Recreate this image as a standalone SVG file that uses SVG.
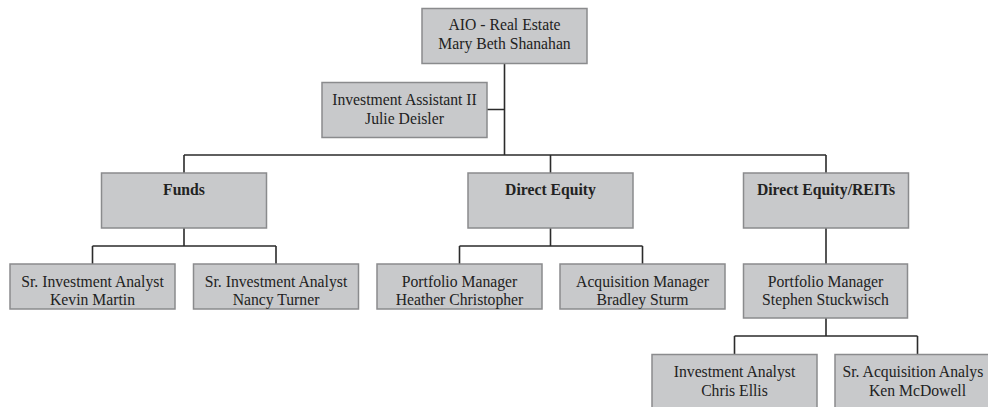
<svg xmlns="http://www.w3.org/2000/svg" width="988" height="407" viewBox="0 0 988 407">
<style>
.box{fill:#c8c9cb;stroke:#8a8b8d;stroke-width:1.5}
.t{font-family:"Liberation Serif","Times New Roman",serif;font-size:15.7px;fill:#222;text-anchor:middle}
.b{font-weight:bold}
.c{fill:none;stroke:#2b2b2b;stroke-width:1.6}
</style>
<rect width="988" height="407" fill="#fff"/>
<g id="connectors">
<path class="c" d="M504.5 63.5V155M487 109.5H504.5M184 155H826M184 155V173M550.5 155V173M826 155V173"/>
<path class="c" d="M184 228V246M92.5 246H276M92.5 246V264M276 246V264"/>
<path class="c" d="M550.5 228V246M459.5 246H642.5M459.5 246V264M642.5 246V264"/>
<path class="c" d="M826 228V264"/>
<path class="c" d="M826 318V336M734.5 336H917.5M734.5 336V354.5M917.5 336V354.5"/>
</g>
<g id="n-aio"><rect class="box" x="422" y="8.5" width="165" height="55"/><text class="t" x="504.5" y="30">AIO - Real Estate</text><text class="t" x="504.5" y="48.5">Mary Beth Shanahan</text></g>
<g id="n-assistant"><rect class="box" x="322" y="82.5" width="165" height="55"/><text class="t" x="404.5" y="105">Investment Assistant II</text><text class="t" x="404.5" y="123.5">Julie Deisler</text></g>
<g id="n-funds"><rect class="box" x="101.5" y="173" width="165" height="55"/><text class="t b" x="184" y="194.5">Funds</text></g>
<g id="n-direct-equity"><rect class="box" x="468" y="173" width="165" height="55"/><text class="t b" x="550.5" y="194.5">Direct Equity</text></g>
<g id="n-reits"><rect class="box" x="743.5" y="173" width="165" height="55"/><text class="t b" x="826" y="194.5">Direct Equity/REITs</text></g>
<g id="n-kevin"><rect class="box" x="10" y="264" width="165" height="45"/><text class="t" x="92.5" y="286.5">Sr. Investment Analyst</text><text class="t" x="92.5" y="305">Kevin Martin</text></g>
<g id="n-nancy"><rect class="box" x="193.5" y="264" width="165" height="45"/><text class="t" x="276" y="286.5">Sr. Investment Analyst</text><text class="t" x="276" y="305">Nancy Turner</text></g>
<g id="n-heather"><rect class="box" x="377" y="264" width="165" height="45"/><text class="t" x="459.5" y="286.5">Portfolio Manager</text><text class="t" x="459.5" y="305">Heather Christopher</text></g>
<g id="n-bradley"><rect class="box" x="560" y="264" width="165" height="45"/><text class="t" x="642.5" y="286.5">Acquisition Manager</text><text class="t" x="642.5" y="305">Bradley Sturm</text></g>
<g id="n-stephen"><rect class="box" x="743.5" y="264" width="164" height="54"/><text class="t" x="825.5" y="286.5">Portfolio Manager</text><text class="t" x="825.5" y="305">Stephen Stuckwisch</text></g>
<g id="n-chris"><rect class="box" x="652" y="354.5" width="165" height="60"/><text class="t" x="734.5" y="377">Investment Analyst</text><text class="t" x="734.5" y="395.5">Chris Ellis</text></g>
<g id="n-ken"><rect class="box" x="835" y="354.5" width="165" height="60"/><text class="t" x="842.5" y="377" style="text-anchor:start">Sr. Acquisition Analys</text><text class="t" x="917.5" y="395.5">Ken McDowell</text></g>
</svg>
